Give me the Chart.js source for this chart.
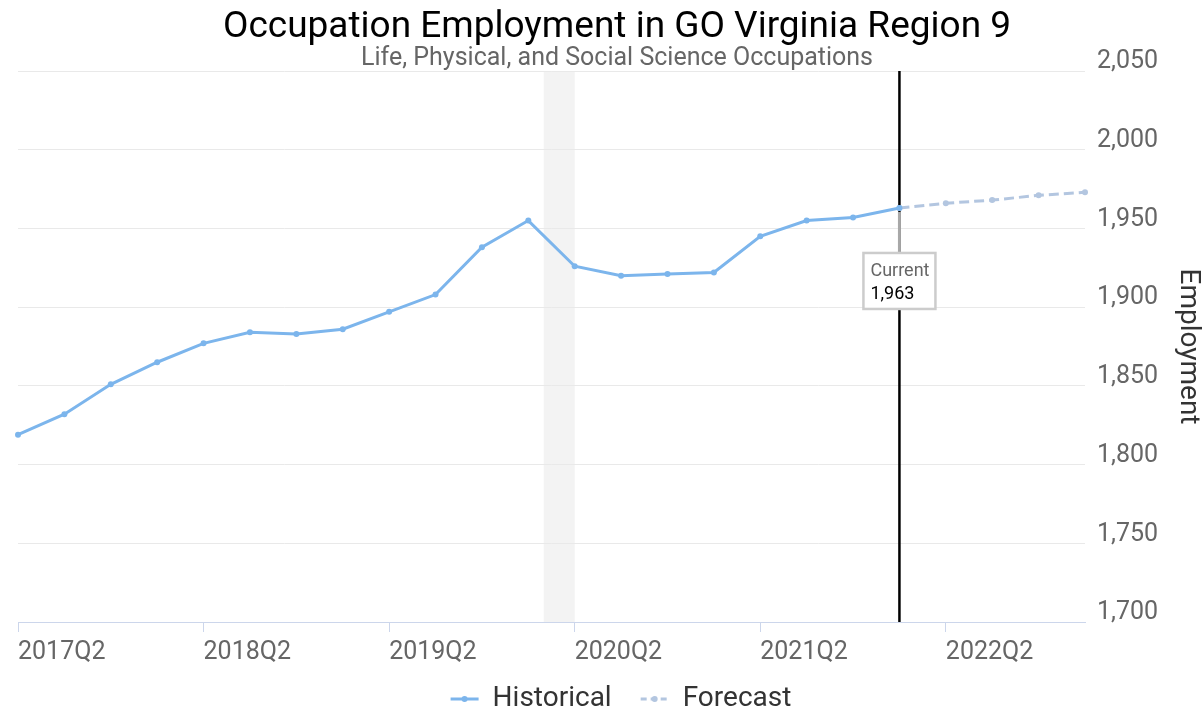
<!DOCTYPE html>
<html lang="en">
<head>
    <meta charset="UTF-8"/>
    <title>Occupation Employment in GO Virginia Region 9</title>
    <script src="https://cdn.jsdelivr.net/npm/chart.js"></script>
    <style>
        html, body {
            margin: 0;
            padding: 0;
            background: #fff;
            width: 1202px;
            height: 710px;
            overflow: hidden; /* canvas is a bit bigger than the window, the extra is empty */
        }
        .chart-box {
            position: relative;
            width: 1216px;
            height: 723px;
        }
    </style>
</head>
<body>
<div class="chart-box">
    <canvas id="employmentChart"></canvas>
</div>

<script>
    // quarters on the x axis
    const quarters = [
        '2017Q2', '2017Q3', '2017Q4',
        '2018Q1', '2018Q2', '2018Q3', '2018Q4',
        '2019Q1', '2019Q2', '2019Q3', '2019Q4',
        '2020Q1', '2020Q2', '2020Q3', '2020Q4',
        '2021Q1', '2021Q2', '2021Q3', '2021Q4',
        '2022Q1', '2022Q2', '2022Q3', '2022Q4',
        '2023Q1'
    ];

    // 2017Q2 .. 2022Q1
    const historical = [1819, 1832, 1851, 1865, 1877, 1884, 1883, 1886, 1897, 1908,
                        1938, 1955, 1926, 1920, 1921, 1922, 1945, 1955, 1957, 1963];
    // 2022Q2 .. 2023Q1
    const forecast = [1966, 1968, 1971, 1973];

    const xTickLabels = ['2017Q2', '2018Q2', '2019Q2', '2020Q2', '2021Q2', '2022Q2'];
    const yTicks = [1700, 1750, 1800, 1850, 1900, 1950, 2000, 2050];

    // recession shading, from month to month
    const recession = ['2020-02', '2020-04'];

    const currentIndex = historical.length - 1;

    const histColor = '#7cb5ec';
    const foreColor = '#b3c6e0';

    function monthToIndex(ym) {
        const [y, m] = ym.split('-').map(Number);
        const q = quarters.indexOf(y + 'Q' + Math.ceil(m / 3));
        return q + ((m - 1) % 3) / 3;
    }

    const histData = quarters.map((q, i) => i < historical.length ? historical[i] : null);
    const foreData = quarters.map((q, i) => {
        if (i === currentIndex) return historical[currentIndex];
        if (i > currentIndex) return forecast[i - currentIndex - 1];
        return null;
    });

    Chart.defaults.font.family = 'Roboto';

    const recessionBand = {
        id: 'recessionBand',
        beforeDraw(chart) {
            const {ctx, chartArea, scales: {x}} = chart;
            const x0 = x.getPixelForValue(monthToIndex(recession[0]));
            const x1 = x.getPixelForValue(monthToIndex(recession[1]));
            ctx.save();
            ctx.fillStyle = '#f3f3f3';
            ctx.fillRect(x0, chartArea.top, x1 - x0, chartArea.bottom - chartArea.top);
            ctx.restore();
        }
    };

    const currentMarker = {
        id: 'currentMarker',
        beforeDatasetsDraw(chart) {
            const {ctx, chartArea, scales: {x}} = chart;
            const px = x.getPixelForValue(currentIndex);
            ctx.save();
            ctx.strokeStyle = '#000';
            ctx.lineWidth = 2.5;
            ctx.beginPath();
            ctx.moveTo(px, chartArea.top);
            ctx.lineTo(px, chartArea.bottom);
            ctx.stroke();
            ctx.restore();
        },
        afterDatasetsDraw(chart) {
            const {ctx, scales: {x, y}} = chart;
            const px = x.getPixelForValue(currentIndex);
            const py = y.getPixelForValue(historical[currentIndex]);
            const boxW = 72, boxH = 56;
            const left = px - 36, top = py + 45;

            ctx.save();
            ctx.strokeStyle = '#a8a8a8';
            ctx.lineWidth = 3;
            ctx.beginPath();
            ctx.moveTo(px, py + 4);
            ctx.lineTo(px, top);
            ctx.stroke();

            ctx.fillStyle = '#fff';
            ctx.fillRect(left, top, boxW, boxH);
            ctx.strokeStyle = '#cccccc';
            ctx.lineWidth = 2.5;
            ctx.strokeRect(left, top, boxW, boxH);

            ctx.font = '18px Roboto';
            ctx.textAlign = 'left';
            ctx.textBaseline = 'middle';
            ctx.fillStyle = '#666';
            ctx.fillText('Current', left + 7, top + 19);
            ctx.fillStyle = '#000';
            ctx.fillText(historical[currentIndex].toLocaleString('en-US'), left + 7, top + 42);
            ctx.restore();
        }
    };

    // legend symbols: short line with a dot, drawn at the right of the legend box
    const legendSymbols = {
        id: 'legendSymbols',
        afterDraw(chart) {
            const legend = chart.legend;
            if (!legend || !legend.legendHitBoxes) return;
            const ctx = chart.ctx;
            legend.legendHitBoxes.forEach((box, i) => {
                const ds = chart.data.datasets[i];
                const x0 = box.left + 8, x1 = box.left + 36, cy = box.top + 14;
                ctx.save();
                ctx.strokeStyle = ds.borderColor;
                ctx.lineWidth = 3;
                ctx.setLineDash(ds.borderDash ? [6, 4] : []);
                ctx.beginPath();
                ctx.moveTo(x0, cy);
                ctx.lineTo(x1, cy);
                ctx.stroke();
                ctx.setLineDash([]);
                ctx.fillStyle = ds.borderColor;
                ctx.beginPath();
                ctx.arc((x0 + x1) / 2, cy, 3, 0, Math.PI * 2);
                ctx.fill();
                ctx.restore();
            });
        }
    };

    const ctx = document.getElementById('employmentChart').getContext('2d');

    new Chart(ctx, {
        type: 'line',
        data: {
            labels: quarters,
            datasets: [
                {
                    label: 'Historical',
                    data: histData,
                    borderColor: histColor,
                    backgroundColor: histColor,
                    borderWidth: 3,
                    pointRadius: 3,
                    pointBorderWidth: 0,
                    pointBackgroundColor: histColor,
                    tension: 0,
                    clip: false
                },
                {
                    label: 'Forecast',
                    data: foreData,
                    borderColor: foreColor,
                    backgroundColor: foreColor,
                    borderWidth: 3,
                    borderDash: [10, 5],
                    pointRadius: 3,
                    pointBorderWidth: 0,
                    pointBackgroundColor: foreColor,
                    tension: 0,
                    clip: false
                }
            ]
        },
        options: {
            responsive: true,
            maintainAspectRatio: false,
            animation: false,
            events: [],
            layout: {
                padding: { left: 18, top: 0, right: 0, bottom: 0 }
            },
            scales: {
                x: {
                    type: 'category',
                    border: { display: true, color: '#ccd6eb', width: 1 },
                    grid: {
                        drawOnChartArea: false,
                        drawTicks: true,
                        tickLength: 10,
                        color: c => xTickLabels.includes(quarters[c.index]) ? '#ccd6eb' : 'rgba(0,0,0,0)'
                    },
                    ticks: {
                        autoSkip: false,
                        maxRotation: 0,
                        minRotation: 0,
                        align: 'start',
                        padding: 8,
                        color: '#666',
                        font: { size: 25, lineHeight: 1 },
                        callback: function(value, index) {
                            const q = quarters[index];
                            return xTickLabels.includes(q) ? q : '';
                        }
                    },
                    afterFit: scale => { scale.height = 42; }
                },
                y: {
                    position: 'right',
                    min: yTicks[0],
                    max: yTicks[yTicks.length - 1],
                    border: { display: false },
                    grid: {
                        color: '#e9e9e9',
                        drawTicks: false
                    },
                    afterBuildTicks: scale => {
                        scale.ticks = yTicks.map(v => ({ value: v }));
                    },
                    ticks: {
                        padding: 12,
                        labelOffset: -9,
                        color: '#666',
                        font: { size: 25 },
                        callback: v => v.toLocaleString('en-US')
                    },
                    title: {
                        display: true,
                        text: 'Employment',
                        color: '#333',
                        font: { size: 28 },
                        padding: { top: 11, bottom: 0 }
                    },
                    afterFit: scale => { scale.width = 131; }
                }
            },
            plugins: {
                title: {
                    display: true,
                    text: 'Occupation Employment in GO Virginia Region 9',
                    color: '#000',
                    font: { size: 37, weight: 'normal', lineHeight: 1 },
                    padding: { top: 9, bottom: 0 }
                },
                subtitle: {
                    display: true,
                    text: 'Life, Physical, and Social Science Occupations',
                    color: '#666',
                    font: { size: 25, weight: 'normal', lineHeight: 1 },
                    padding: { top: 0, bottom: 0 }
                },
                legend: {
                    position: 'bottom',
                    labels: {
                        usePointStyle: true,
                        pointStyle: 'line',
                        pointStyleWidth: 36,
                        boxHeight: 28,
                        padding: 21,
                        color: '#333',
                        font: { size: 28 },
                        generateLabels: chart => Chart.defaults.plugins.legend.labels.generateLabels(chart)
                            .map(item => Object.assign(item, { strokeStyle: 'rgba(0,0,0,0)', fillStyle: 'rgba(0,0,0,0)' }))
                    }
                },
                tooltip: { enabled: false }
            }
        },
        plugins: [recessionBand, currentMarker, legendSymbols]
    });
</script>
</body>
</html>
